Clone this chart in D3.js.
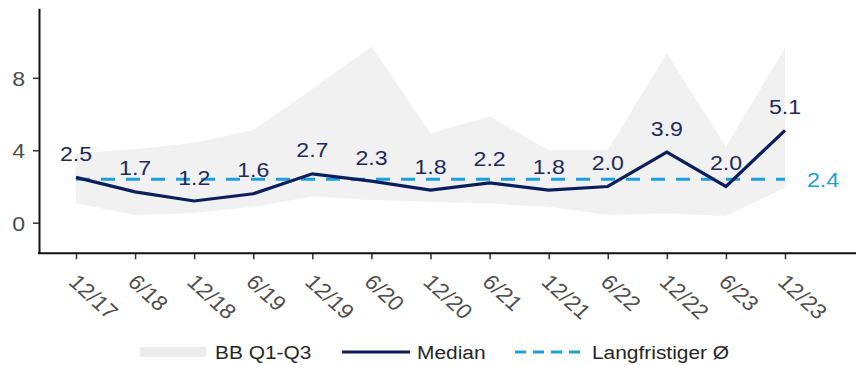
<!DOCTYPE html>
<html>
<head>
<meta charset="utf-8">
<script src="https://cdn.jsdelivr.net/npm/d3@7"></script>
<style>
  body { margin: 0; background: #fff; }
  svg { font-family: "Liberation Sans", Arial, sans-serif; }
</style>
</head>
<body>
<svg id="chart" width="856" height="365"></svg>
<script>
// data
const periods = ["12/17", "6/18", "12/18", "6/19", "12/19", "6/20", "12/20", "6/21", "12/21", "6/22", "12/22", "6/23", "12/23"];
const median  = [2.5, 1.7, 1.2, 1.6, 2.7, 2.3, 1.8, 2.2, 1.8, 2.0, 3.9, 2.0, 5.1];
const q1      = [1.07, 0.43, 0.54, 0.88, 1.44, 1.25, 1.16, 1.07, 0.88, 0.43, 0.52, 0.37, 1.95];
const q3      = [3.83, 4.06, 4.42, 5.12, 7.39, 9.72, 4.94, 5.86, 4.02, 4.02, 9.36, 4.2, 9.64];
const longRunAvg = 2.4;
const yTicks = [0, 4, 8];
const legendItems = ["BB Q1-Q3", "Median", "Langfristiger Ø"];

const navy = "#0c1f5c", lightBlue = "#1aa0e0", band = "#f1f1f1";
const sx = 1.1; // the reference text is a bit wider than plain Arial

const svg = d3.select("#chart");

const x = d3.scalePoint().domain(periods).range([76, 785]);
const y = d3.scaleLinear().domain([-1.69, 11.84]).range([253.3, 8.3]);

// interquartile band
svg.append("path")
  .datum(periods)
  .attr("fill", band)
  .attr("d", d3.area()
    .x(d => x(d))
    .y0((d, i) => y(q1[i]))
    .y1((d, i) => y(q3[i])));

// long-run average
svg.append("line")
  .attr("x1", x(periods[0])).attr("x2", x(periods[periods.length - 1]))
  .attr("y1", y(longRunAvg)).attr("y2", y(longRunAvg))
  .attr("stroke", lightBlue)
  .attr("stroke-width", 3)
  .attr("stroke-dasharray", "14 11");

svg.append("text")
  .attr("transform", `translate(823,${y(longRunAvg)}) scale(${sx},1)`)
  .attr("dy", "0.36em")
  .attr("text-anchor", "middle")
  .attr("fill", lightBlue)
  .attr("font-size", 21)
  .text(longRunAvg.toFixed(1));

// median line
svg.append("path")
  .datum(median)
  .attr("fill", "none")
  .attr("stroke", navy)
  .attr("stroke-width", 3.2)
  .attr("d", d3.line().x((d, i) => x(periods[i])).y(d => y(d)));

// value labels
svg.append("g")
  .selectAll("text")
  .data(median)
  .join("text")
  .attr("transform", (d, i) => `translate(${x(periods[i])},${y(d) - 24}) scale(${sx},1)`)
  .attr("dy", "0.36em")
  .attr("text-anchor", "middle")
  .attr("fill", "#1c2a5e")
  .attr("font-size", 21)
  .text(d => d.toFixed(1));

// y axis
const yAxis = svg.append("g")
  .attr("transform", "translate(39,0)")
  .call(d3.axisLeft(y).tickValues(yTicks).tickSize(6).tickSizeOuter(0));
yAxis.select(".domain").attr("stroke", "#111").attr("stroke-width", 2);
yAxis.selectAll(".tick line").attr("stroke", "#333").attr("stroke-width", 1.5);
yAxis.selectAll(".tick text")
  .attr("x", null).attr("dy", "0.36em")
  .attr("transform", `translate(-14,0) scale(${sx},1)`)
  .attr("fill", "#4d4d4d").attr("font-size", 21)
  .attr("font-family", "Liberation Sans, Arial, sans-serif");

// x axis
const xAxis = svg.append("g")
  .attr("transform", "translate(0,253.3)")
  .call(d3.axisBottom(x).tickSize(6).tickSizeOuter(0));
xAxis.select(".domain").remove();
xAxis.append("line")
  .attr("x1", 38).attr("x2", 856)
  .attr("stroke", "#111").attr("stroke-width", 2);
xAxis.selectAll(".tick line").attr("stroke", "#333").attr("stroke-width", 1.5);
xAxis.selectAll(".tick text")
  .attr("fill", "#4d4d4d").attr("font-size", 21)
  .attr("font-family", "Liberation Sans, Arial, sans-serif")
  .attr("y", 0).attr("dy", 0)
  .attr("text-anchor", "start")
  .attr("transform", `translate(-9,30) scale(${sx},1) rotate(45)`);

// legend
const legend = svg.append("g").attr("font-size", 19).attr("fill", "#262626");
const ly = 352;
legend.append("rect").attr("x", 140).attr("y", ly - 5).attr("width", 66).attr("height", 10).attr("fill", "#ececec");
legend.append("line").attr("x1", 342).attr("x2", 410).attr("y1", ly).attr("y2", ly)
  .attr("stroke", navy).attr("stroke-width", 3);
legend.append("line").attr("x1", 515).attr("x2", 584).attr("y1", ly).attr("y2", ly)
  .attr("stroke", lightBlue).attr("stroke-width", 3).attr("stroke-dasharray", "11 7");
legend.selectAll("text.lab")
  .data(legendItems)
  .join("text")
  .attr("class", "lab")
  .attr("transform", (d, i) => `translate(${[215, 417, 592][i]},${ly}) scale(${sx},1)`)
  .attr("dy", "0.36em")
  .text(d => d);
</script>
</body>
</html>
